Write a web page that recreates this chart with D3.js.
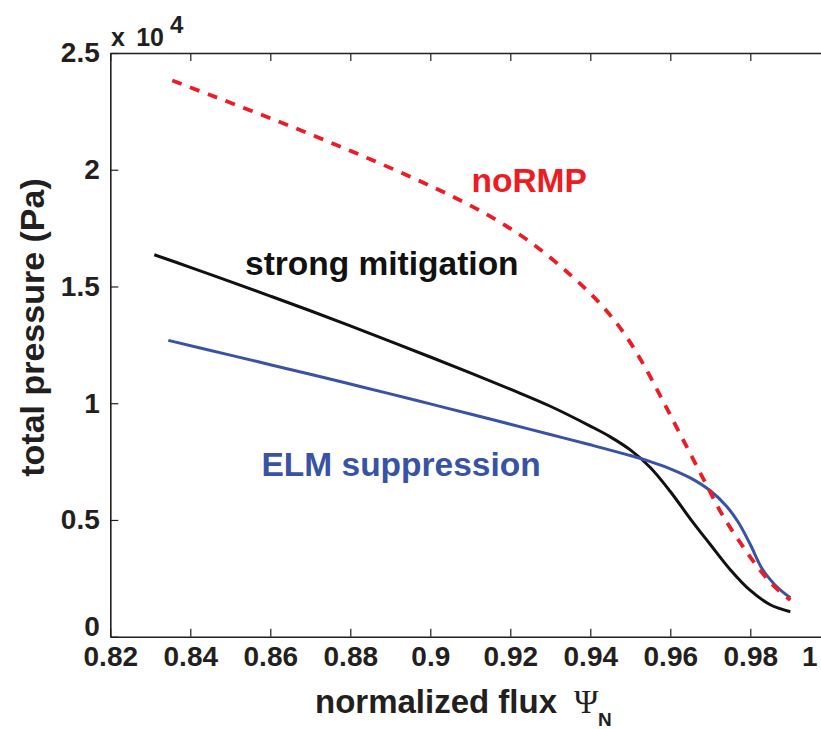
<!DOCTYPE html>
<html>
<head>
<meta charset="utf-8">
<script src="https://cdn.jsdelivr.net/npm/d3@7"></script>
<style>
  html, body { margin: 0; padding: 0; background: #fff; }
  svg { display: block; }
  text { font-family: "Liberation Sans", Arial, Helvetica, sans-serif; }
</style>
</head>
<body>
<svg id="chart" width="821" height="729"></svg>
<script>
// ---- data (pressure in units of 10^4 Pa) ----
const xTickValues = [0.82, 0.84, 0.86, 0.88, 0.90, 0.92, 0.94, 0.96, 0.98, 1.00];
const xTickLabels = ["0.82", "0.84", "0.86", "0.88", "0.9", "0.92", "0.94", "0.96", "0.98", "1"];
const yTickValues = [0, 0.5, 1, 1.5, 2, 2.5];
const yTickLabels = ["0", "0.5", "1", "1.5", "2", "2.5"];

const noRMP_x = [0.8355, 0.845, 0.855, 0.865, 0.875, 0.885, 0.895, 0.905, 0.915, 0.925, 0.935, 0.942, 0.948, 0.953, 0.958, 0.963, 0.968, 0.973, 0.978, 0.982, 0.986, 0.990];
const noRMP_y = [2.382, 2.320, 2.254, 2.187, 2.117, 2.045, 1.970, 1.890, 1.800, 1.690, 1.550, 1.435, 1.310, 1.175, 1.015, 0.850, 0.685, 0.522, 0.390, 0.295, 0.215, 0.157];

const mitigation_x = [0.831, 0.840, 0.850, 0.860, 0.870, 0.880, 0.890, 0.900, 0.910, 0.920, 0.930, 0.940, 0.945, 0.950, 0.955, 0.960, 0.965, 0.970, 0.975, 0.980, 0.985, 0.990];
const mitigation_y = [1.636, 1.582, 1.521, 1.459, 1.396, 1.331, 1.265, 1.198, 1.130, 1.060, 0.987, 0.902, 0.856, 0.800, 0.725, 0.622, 0.505, 0.395, 0.287, 0.198, 0.137, 0.107];

const suppression_x = [0.8345, 0.850, 0.860, 0.870, 0.880, 0.890, 0.900, 0.910, 0.920, 0.930, 0.940, 0.950, 0.955, 0.960, 0.965, 0.970, 0.974, 0.977, 0.980, 0.983, 0.986, 0.988, 0.990];
const suppression_y = [1.269, 1.206, 1.165, 1.124, 1.082, 1.040, 0.997, 0.954, 0.910, 0.866, 0.822, 0.776, 0.750, 0.719, 0.680, 0.625, 0.560, 0.490, 0.395, 0.290, 0.225, 0.193, 0.167];

const seriesNames = ["noRMP", "strong mitigation", "ELM suppression"];
const seriesColors = ["#ED1C24", "#111111", "#3953A4"];

// ---- layout ----
const svg = d3.select("#chart");
const mLeft = 110.3, mTop = 53, mBottom = 636.7, mRight = 830.3;

const x = d3.scaleLinear().domain([0.82, 1.0]).range([mLeft, mRight]);
const y = d3.scaleLinear().domain([0, 2.5]).range([mBottom, mTop]);

const axisColor = "#231f20";

// bottom axis
const gx = svg.append("g").attr("transform", `translate(0,${mBottom})`)
  .call(d3.axisBottom(x).tickValues(xTickValues)
    .tickFormat((d, i) => xTickLabels[i])
    .tickSizeInner(-8).tickSizeOuter(0).tickPadding(9.5));
// top axis (mirror ticks)
const gxt = svg.append("g").attr("transform", `translate(0,${mTop})`)
  .call(d3.axisTop(x).tickValues(xTickValues).tickFormat("")
    .tickSizeInner(-8).tickSizeOuter(0));
// left axis
const gy = svg.append("g").attr("transform", `translate(${mLeft},0)`)
  .call(d3.axisLeft(y).tickValues(yTickValues)
    .tickFormat((d, i) => yTickLabels[i])
    .tickSizeInner(-8).tickSizeOuter(0).tickPadding(10.5));

[gx, gxt, gy].forEach(g => {
  g.select(".domain").attr("stroke", axisColor).attr("stroke-width", 1.6);
  g.selectAll(".tick line").attr("stroke", axisColor).attr("stroke-width", 1.2);
  g.selectAll(".tick text")
    .attr("fill", axisColor)
    .style("font-size", "28px")
    .style("font-weight", "bold");
});
// MATLAB-like offsets on the end labels
gy.selectAll(".tick").filter(d => d === 0).select("text").attr("transform", "translate(0,-10)");
gx.selectAll(".tick").filter(d => d === 1).select("text").attr("transform", "translate(-21,0)");

// exponent label
svg.append("text").attr("x", 111).attr("y", 46)
  .attr("fill", axisColor).style("font-size", "25px").style("font-weight", "bold").text("x");
svg.append("text").attr("x", 164).attr("y", 46).attr("text-anchor", "end")
  .attr("fill", axisColor).style("font-size", "25px").style("font-weight", "bold").text("10");
svg.append("text").attr("x", 170).attr("y", 33)
  .attr("fill", axisColor).style("font-size", "24px").style("font-weight", "bold").text("4");

// axis titles
svg.append("text")
  .attr("transform", "translate(43.5,327.5) rotate(-90)")
  .attr("text-anchor", "middle")
  .attr("fill", axisColor).style("font-size", "34px").style("font-weight", "bold")
  .text("total pressure (Pa)");

svg.append("text").attr("x", 315).attr("y", 713)
  .attr("fill", axisColor).style("font-size", "33px").style("font-weight", "bold")
  .text("normalized flux");
svg.append("text").attr("x", 574).attr("y", 713)
  .attr("fill", axisColor).style("font-size", "33px")
  .style("font-family", "'Liberation Serif', 'DejaVu Serif', serif")
  .text("Ψ");
svg.append("text").attr("x", 598).attr("y", 726)
  .attr("fill", axisColor).style("font-size", "19px").style("font-weight", "bold")
  .text("N");

// ---- curves ----
const line = d3.line().x(d => x(d[0])).y(d => y(d[1])).curve(d3.curveCatmullRom.alpha(0.5));
const zip = (a, b) => a.map((v, i) => [v, b[i]]);

svg.append("path").datum(zip(mitigation_x, mitigation_y))
  .attr("d", line).attr("fill", "none")
  .attr("stroke", seriesColors[1]).attr("stroke-width", 3);
svg.append("path").datum(zip(suppression_x, suppression_y))
  .attr("d", line).attr("fill", "none")
  .attr("stroke", seriesColors[2]).attr("stroke-width", 3);
svg.append("path").datum(zip(noRMP_x, noRMP_y))
  .attr("d", line).attr("fill", "none")
  .attr("stroke", seriesColors[0]).attr("stroke-width", 3.8)
  .attr("stroke-dasharray", "10,9");

// ---- in-plot labels ----
const labelPos = [[471.5, 191.5], [245, 275], [261.5, 476]];
seriesNames.forEach((name, i) => {
  svg.append("text").attr("x", labelPos[i][0]).attr("y", labelPos[i][1])
    .attr("fill", seriesColors[i])
    .style("font-size", "33.5px").style("font-weight", "bold")
    .text(name);
});
</script>
</body>
</html>
